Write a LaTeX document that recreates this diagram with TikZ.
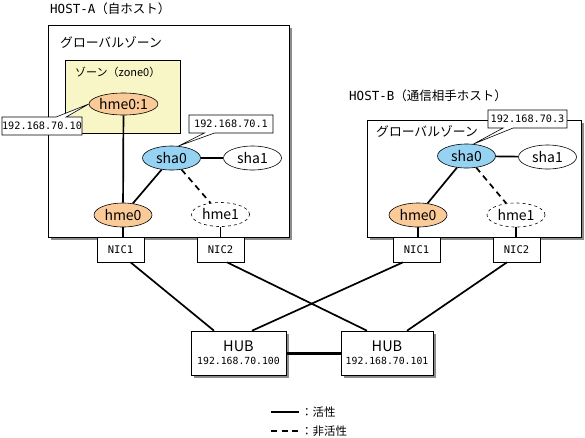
\documentclass[tikz,border=0pt]{standalone}
\usepackage{fontspec}
\setmainfont{Noto Sans CJK JP}
\newfontfamily\ipfont{DejaVu Sans Mono}
\usetikzlibrary{shapes.geometric,shapes.callouts,shadows}
\definecolor{iforange}{RGB}{250,202,152}
\definecolor{ifblue}{RGB}{150,210,242}
\definecolor{zoneyellow}{RGB}{248,246,198}
\begin{document}
\begin{tikzpicture}[x=1pt,y=-1pt,
        jp/.style={inner sep=0pt,font=\fontsize{12.8}{14}\selectfont},
        hostbox/.style={draw,fill=white,line width=0.6pt,inner sep=0pt,
            drop shadow={shadow xshift=2.5pt,shadow yshift=-2.5pt,fill=black!45,opacity=1}},
        ifnode/.style={ellipse,draw,line width=0.6pt,inner sep=0pt,
            minimum width=58pt,minimum height=24pt,font=\fontsize{14}{16}\selectfont},
        nicbox/.style={draw,fill=white,line width=0.6pt,inner sep=0pt,
            minimum width=47pt,minimum height=25pt,font=\ipfont\fontsize{10.5}{12}\selectfont},
        ipbox/.style={rectangle callout,draw,fill=white,line width=0.6pt,inner sep=0pt,
            minimum height=18pt,callout pointer width=10pt,font=\ipfont\fontsize{10.2}{12}\selectfont},
        wire/.style={line width=1.7pt},
        offline/.style={dash pattern=on 6pt off 4.5pt}]
    \useasboundingbox (0,0) rectangle (585,437);
    %% HOST-A
    \node[anchor=west,inner sep=0pt,font=\fontsize{12.5}{14}\selectfont] (hostalbl) at (50,9) {{\ipfont HOST-A}（自ホスト）};
    \node[hostbox,minimum width=241pt,minimum height=212pt] (hosta) at (168.5,131) {};
    \node[jp,anchor=west] (gza) at (60,42) {グローバルゾーン};
    \node[draw,fill=zoneyellow,line width=0.6pt,minimum width=115pt,minimum height=73pt] (zone) at (122.5,96.5) {};
    \node[jp,anchor=west,font=\fontsize{11}{13}\selectfont] (zonelbl) at (75,72) {ゾーン（zone0）};
    \node[ifnode,fill=iforange,minimum width=57pt,minimum height=22pt] (hme01) at (123.5,104) {hme0:1};
    \node[ifnode,fill=ifblue] (sha0a) at (171.5,158) {sha0};
    \node[ifnode,fill=white] (sha1a) at (252.5,158) {sha1};
    \node[ifnode,fill=iforange] (hmea) at (123,215) {hme0};
    \node[ifnode,fill=white,dashed] (hme1a) at (220.5,214.5) {hme1};
    \node[nicbox] (nic1a) at (120.5,249.5) {NIC1};
    \node[nicbox] (nic2a) at (220.5,249.5) {NIC2};
    \draw[wire] (hme01) -- (hmea);
    \draw[wire] (hmea) -- (sha0a);
    \draw[wire] (sha0a) -- (sha1a);
    \draw[wire,offline] (sha0a) -- (hme1a);
    \draw[wire] (hmea.south) -- (hmea.south |- nic1a.north);
    \draw[wire] (hme1a.south) -- (hme1a.south |- nic2a.north);
    \node[ipbox,minimum width=80pt,callout absolute pointer={(hme01.west)}] (ip10) at (42,126) {192.168.70.10};
    \node[ipbox,minimum width=84pt,callout absolute pointer={(sha0a.60)}] (ip1) at (231,124) {192.168.70.1};
    %% HOST-B
    \node[anchor=west,inner sep=0pt,font=\fontsize{12.5}{14}\selectfont] (hostblbl) at (349,96) {{\ipfont HOST-B}（通信相手ホスト）};
    \node[hostbox,minimum width=214pt,minimum height=117pt] (hostb) at (474,178.5) {};
    \node[jp,anchor=west] (gzb) at (376,131) {グローバルゾーン};
    \node[ifnode,fill=ifblue] (sha0b) at (466.5,156) {sha0};
    \node[ifnode,fill=white] (sha1b) at (547.5,157) {sha1};
    \node[ifnode,fill=iforange] (hmeb) at (418,215) {hme0};
    \node[ifnode,fill=white,dashed] (hme1b) at (516,215) {hme1};
    \node[nicbox] (nic1b) at (416.5,249.5) {NIC1};
    \node[nicbox] (nic2b) at (516.5,249.5) {NIC2};
    \draw[wire] (hmeb) -- (sha0b);
    \draw[wire] (sha0b) -- (sha1b);
    \draw[wire,offline] (sha0b) -- (hme1b);
    \draw[wire] (hmeb.south) -- (hmeb.south |- nic1b.north);
    \draw[wire] (hme1b.south) -- (hme1b.south |- nic2b.north);
    \node[ipbox,minimum width=79pt,callout absolute pointer={(sha0b.60)}] (ip3) at (527.5,119) {192.168.70.3};
    %% HUB
    \node[hostbox,minimum width=95pt,minimum height=44pt,align=center] (hub1) at (238.5,353)
        {{\fontsize{14.5}{15}\selectfont HUB}\\[1pt]{\ipfont\fontsize{9.8}{12}\selectfont 192.168.70.100}};
    \node[hostbox,minimum width=92pt,minimum height=44pt,align=center] (hub2) at (387,353)
        {{\fontsize{14.5}{15}\selectfont HUB}\\[1pt]{\ipfont\fontsize{9.8}{12}\selectfont 192.168.70.101}};
    \draw[wire] ([xshift=10pt]nic1a.south) -- ([xshift=-24.5pt]hub1.north);
    \draw[wire] ([xshift=6.5pt]nic2a.south) -- ([xshift=-20pt]hub2.north);
    \draw[wire] ([xshift=-13.5pt]nic1b.south) -- ([xshift=13.5pt]hub1.north);
    \draw[wire] ([xshift=-9.5pt]nic2b.south) -- ([xshift=20pt]hub2.north);
    \draw[line width=3pt] (hub1) -- (hub2);
    %% legend
    \coordinate (lgsa) at (271,412);
    \coordinate (lgsb) at (299,412);
    \coordinate (lgda) at (271,431);
    \coordinate (lgdb) at (299,431);
    \draw[wire] (lgsa) -- (lgsb);
    \draw[wire,offline] (lgda) -- (lgdb);
    \node[anchor=west,inner sep=0pt,font=\fontsize{11.5}{13}\selectfont] (lgstxt) at (301,412) {：活性};
    \node[anchor=west,inner sep=0pt,font=\fontsize{11.5}{13}\selectfont] (lgdtxt) at (301,431) {：非活性};
\end{tikzpicture}
\end{document}
